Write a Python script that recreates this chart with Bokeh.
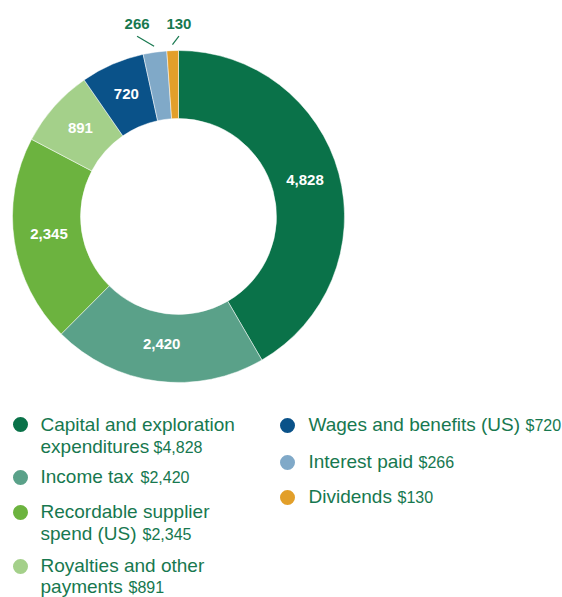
import numpy as np
from bokeh.plotting import figure
from bokeh.models import Range1d, ColumnDataSource
from bokeh.core.properties import value
from bokeh.embed import file_html
from bokeh.resources import INLINE

categories = ["Capital and exploration expenditures", "Income tax", "Recordable supplier spend (US)",
              "Royalties and other payments", "Wages and benefits (US)", "Interest paid", "Dividends"]
values = [4828, 2420, 2345, 891, 720, 266, 130]
colors = ["#0a7249", "#5aa189", "#6cb33f", "#a4d08a", "#0a5289", "#80a9c8", "#e29f2a"]
labels = ["4,828", "2,420", "2,345", "891", "720", "266", "130"]
amounts = ["$4,828", "$2,420", "$2,345", "$891", "$720", "$266", "$130"]
legend_lines = [["Capital and exploration", "expenditures"], ["Income tax"],
                ["Recordable supplier", "spend (US)"], ["Royalties and other", "payments"],
                ["Wages and benefits (US)"], ["Interest paid"], ["Dividends"]]

W, H = 562, 597
FONT = "Liberation Sans"
TXT = "#17784f"

def X(px):
    return px

def Y(py):
    return H - py

p = figure(width=W, height=H, output_backend="svg", toolbar_location=None,
           x_range=Range1d(0, W), y_range=Range1d(0, H), min_border=0)
p.axis.visible = False
p.grid.visible = False
p.outline_line_color = None
p.background_fill_color = "white"

cx, cy = X(178), Y(216)
r_in, r_out = 98, 166
vals = np.array(values, dtype=float)
total = vals.sum()
cum = np.concatenate([[0], np.cumsum(vals)])
starts = np.pi / 2 - 2 * np.pi * cum[:-1] / total
ends = np.pi / 2 - 2 * np.pi * cum[1:] / total
mids = (starts + ends) / 2

src = ColumnDataSource(dict(start=starts, end=ends, color=colors))
p.annular_wedge(x=cx, y=cy, inner_radius=r_in, outer_radius=r_out, start_angle="start",
                end_angle="end", direction="clock", fill_color="color", line_color="white",
                line_width=0.5, source=src)

# inside labels
r_lab = (r_in + r_out) / 2 - 1
inside = [i for i in range(5)]
p.text(x=[cx + r_lab * np.cos(mids[i]) for i in inside],
       y=[cy + r_lab * np.sin(mids[i]) + 2 for i in inside],
       text=[labels[i] for i in inside], text_color="white", text_font=value(FONT),
       text_font_style="bold", text_font_size="15px", text_align="center", text_baseline="middle")

# outside labels with leader lines
offsets = {5: (-17, 10), 6: (6.5, 8.5)}
for i, (dx, dy) in offsets.items():
    ax = cx + (r_out + 6) * np.cos(mids[i])
    ay = cy + (r_out + 6) * np.sin(mids[i])
    p.line(x=[ax, ax + dx], y=[ay, ay + dy], line_color=TXT, line_width=1.2)
    p.text(x=[ax + dx], y=[ay + dy + 12.5], text=[labels[i]], text_color=TXT, text_font=value(FONT),
           text_font_style="bold", text_font_size="15px", text_align="center",
           text_baseline="middle")

# legend
marker_x = [20, 20, 20, 20, 287, 287, 287]
marker_y = [424, 477, 512, 566, 425, 462, 497]
text_x = [40, 40, 40, 40, 308, 308, 308]
centers = [[424, 446], [476], [511, 533], [565, 586], [424], [461], [496]]
amount_x = [153, 140, 142, 128, 525, 418, 397]
p.scatter(x=[X(v) for v in marker_x], y=[Y(v) for v in marker_y], size=15, marker="circle",
          fill_color=colors, line_color=None)
for i in range(len(categories)):
    lines = legend_lines[i]
    for j, t in enumerate(lines):
        p.text(x=[X(text_x[i])], y=[Y(centers[i][j])], text=[t], text_color=TXT,
               text_font=value(FONT), text_font_size="19px", text_align="left",
               text_baseline="middle")
    p.text(x=[X(amount_x[i])], y=[Y(centers[i][-1]) - 1], text=[amounts[i]],
           text_color=TXT, text_font=value(FONT), text_font_size="16px", text_align="left",
           text_baseline="middle")

open("out.html", "w").write(file_html(p, INLINE))
